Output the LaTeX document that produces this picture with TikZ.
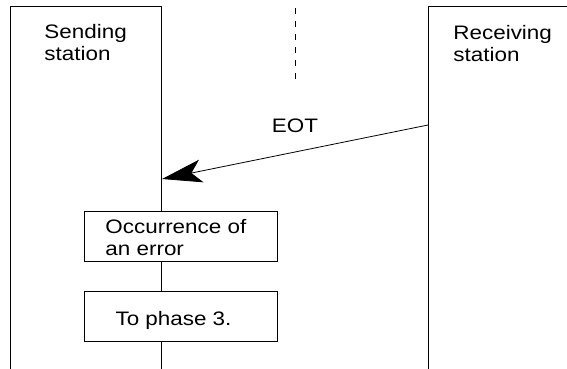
\documentclass[tikz,border=0pt]{standalone}
\usepackage{fontspec}
\setmainfont[FakeStretch=1.15]{Liberation Sans}
\usetikzlibrary{arrows.meta}
\begin{document}
\begin{tikzpicture}[x=1pt,y=-1pt,line width=0.9pt,
  lbl/.style={font=\fontsize{19.5}{22}\selectfont,align=left,inner sep=0pt,anchor=north west},
  procbox/.style={draw,fill=white,minimum width=193pt,minimum height=50pt,inner sep=0pt}]
\useasboundingbox (0,0) rectangle (567,368);
% station frames
\coordinate (sbl) at (10,370);
\coordinate (stl) at (10,6);
\coordinate (str) at (161,6);
\coordinate (sbr) at (161,370);
\coordinate (rbl) at (428,370);
\coordinate (rtl) at (428,6);
\coordinate (rtr) at (570,6);
\draw (sbl) -- (stl) -- (str) -- (sbr);
\draw (rbl) -- (rtl) -- (rtr);
\node[lbl] (send) at (44,24) {Sending\\station};
\node[lbl] (recv) at (453,24.5) {Receiving\\station};
% dashed divider
\coordinate (d1) at (295,8);
\coordinate (d2) at (295,80);
\draw[dash pattern=on 6pt off 7pt] (d1) -- (d2);
% EOT arrow
\coordinate (eotsrc) at (428,125);
\coordinate (eottip) at (162,179);
\draw[line width=0.8pt,-{Stealth[length=40pt,width=23pt,inset=10pt]}] (eotsrc) -- (eottip);
\node[lbl,anchor=base] (eot) at (295,132) {EOT};
% process boxes
\node[procbox] (err) at (180.5,236.7) {};
\node[lbl] (errt) at (105,219) {Occurrence of\\an error};
\node[procbox] (ph3) at (180.5,316.7) {};
\node[lbl,anchor=base] (ph3t) at (173.5,325) {To phase 3.};
\end{tikzpicture}
\end{document}
